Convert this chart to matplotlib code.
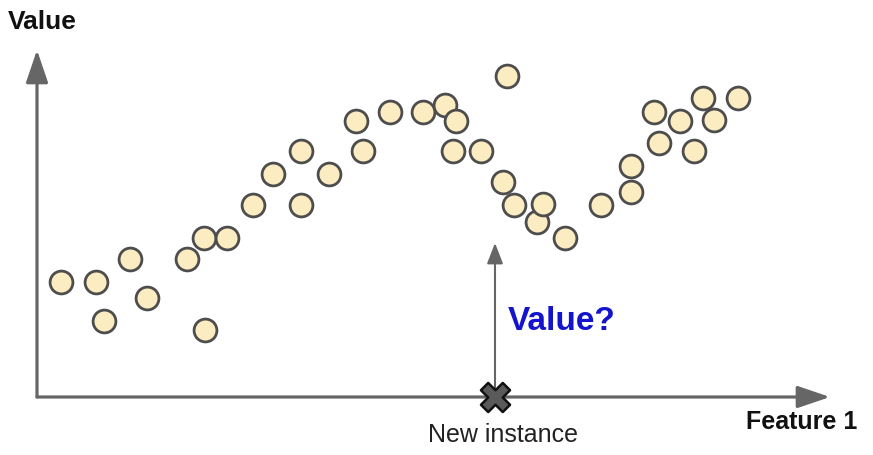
import matplotlib.pyplot as plt

plt.rcParams['font.family'] = ['Liberation Sans', 'DejaVu Sans']

# training instances (feature 1, value)
feature = [24, 59, 67, 93, 110, 150, 167, 168, 190, 216, 236, 264, 264, 292,
           319, 326, 353, 386, 408, 419, 416, 444, 470, 466, 477, 500, 506,
           528, 564, 594, 594, 617, 622, 643, 657, 666, 677, 701]
value = [115, 115, 76, 138, 99, 138, 159, 67, 159, 192, 223, 246, 192, 223,
         276, 246, 285, 285, 292, 276, 246, 246, 321, 215, 192, 175, 193,
         159, 192, 205, 231, 285, 254, 276, 246, 299, 277, 299]
new_x = 458
query_top = 154

fig = plt.figure(figsize=(8.73, 4.55), dpi=100)
ax = fig.add_axes([0, 0, 1, 1])
ax.set_xlim(-37, 836)
ax.set_ylim(-58, 397)
ax.axis('off')

axis_col = '#666666'
ax.annotate('', xy=(793, 0), xytext=(0, 0),
            arrowprops=dict(arrowstyle='-|>,head_length=1.0,head_width=0.34',
                            mutation_scale=20, lw=2.3, color=axis_col,
                            shrinkA=0, shrinkB=0))
ax.annotate('', xy=(0, 347), xytext=(0, 0),
            arrowprops=dict(arrowstyle='-|>,head_length=1.0,head_width=0.34',
                            mutation_scale=20, lw=2.3, color=axis_col,
                            shrinkA=0, shrinkB=0))
ax.annotate('', xy=(new_x, query_top), xytext=(new_x, 0),
            arrowprops=dict(arrowstyle='-|>,head_length=0.9,head_width=0.35',
                            mutation_scale=14, lw=1.5, color=axis_col,
                            shrinkA=0, shrinkB=0))

ax.scatter(feature, value, s=270, facecolor='#fcecc2', edgecolor='#4d4d4d',
           linewidth=2.0, zorder=3)
ax.scatter([new_x], [0], s=440, marker='X', facecolor='#5a5a5a',
           edgecolor='#111111', linewidth=1.8, zorder=4)

ax.text(-29, 375, 'Value', fontsize=19, fontweight='bold', ha='left',
        va='center', color='#111111')
ax.text(820, -25, 'Feature 1', fontsize=18, fontweight='bold', ha='right',
        va='center', color='#111111')
ax.text(new_x + 8, -38, 'New instance', fontsize=18, ha='center',
        va='center', color='#222222')
ax.text(525, 75, 'Value?', fontsize=24, fontweight='bold', ha='center',
        va='center', color='#1414cc')

fig.savefig('out.png', dpi=100)
